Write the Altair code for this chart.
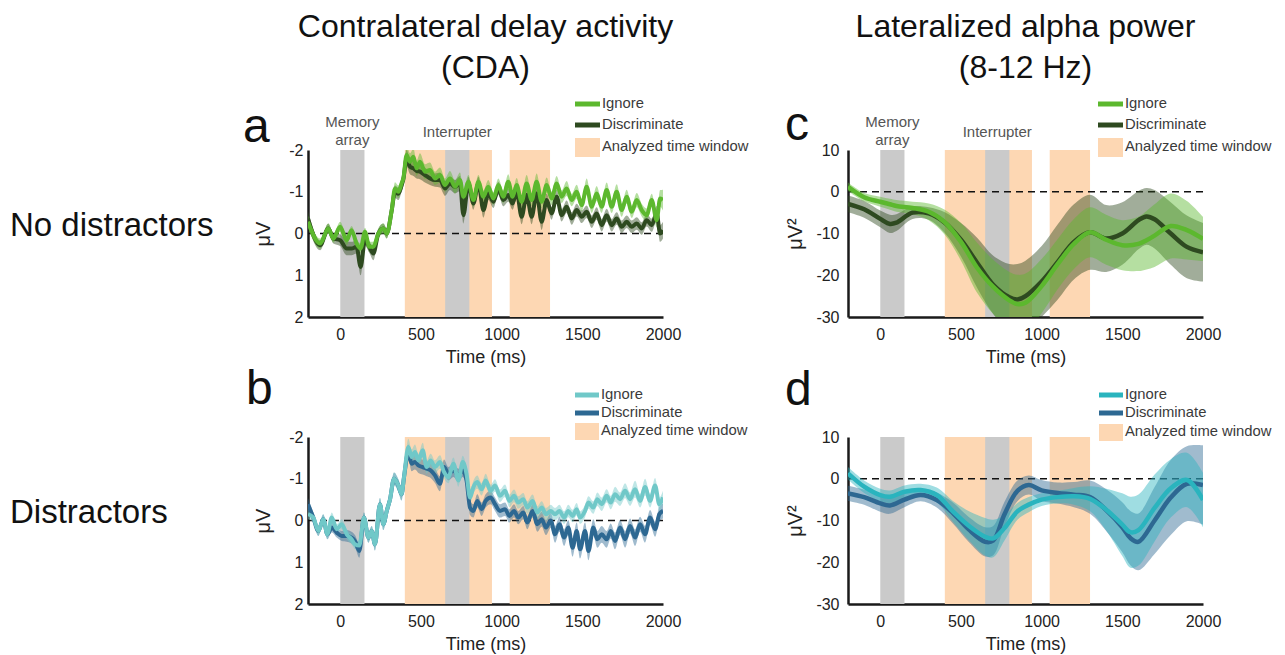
import altair as alt
import pandas as pd

# ---------------- data ----------------
x_ticks = [0, 500, 1000, 1500, 2000]
cda_ticks = [-2, -1, 0, 1, 2]
alpha_ticks = [-30, -20, -10, 0, 10]

window_start = [400, 1050]      # analyzed time windows (ms)
window_end = [940, 1300]
event_start = [0, 650]          # memory array, interrupter (ms)
event_end = [150, 800]

# Panel a: CDA, no distractors
time_a = [-200, -125, -74, -43, -1, 40, 70, 101, 126, 153,
          180, 205, 236, 267, 288, 319, 339, 360, 380, 391,
          411, 432, 453, 473, 494, 525, 556, 587, 618, 649,
          680, 711, 742, 763, 794, 825, 856, 887, 917, 949,
          980, 1010, 1041, 1068, 1093, 1124, 1155, 1186, 1217, 1248,
          1279, 1310, 1341, 1372, 1403, 1434, 1465, 1496, 1527, 1558,
          1589, 1620, 1651, 1682, 1713, 1744, 1775, 1806, 1837, 1868,
          1899, 1930, 1961, 1982, 2000]
ign_a = [-0.28, 0.24, -0.12, 0.12, -0.16, 0.16, -0.08, 0.24, 0.36, -0.04,
         0.32, 0.32, 0.0, -0.12, 0.0, -0.56, -1.08, -1.0, -1.2, -1.32,
         -1.88, -1.72, -1.84, -1.56, -1.72, -1.48, -1.52, -1.32, -1.4, -1.16,
         -1.32, -1.12, -1.28, -0.88, -1.24, -0.8, -1.24, -0.88, -1.12, -0.84,
         -1.16, -0.88, -1.24, -0.88, -1.16, -0.76, -1.2, -0.8, -1.24, -0.76,
         -1.16, -0.84, -1.2, -0.88, -1.08, -0.8, -1.0, -0.68, -1.12, -0.64,
         -0.96, -0.64, -1.04, -0.64, -1.0, -0.56, -0.88, -0.52, -0.8, -0.56,
         -0.44, -0.8, -0.32, -0.84, -0.8]
se_ign_a = [0.15, 0.12, 0.12, 0.1, 0.12, 0.12, 0.1, 0.12, 0.12, 0.1,
            0.12, 0.12, 0.12, 0.12, 0.12, 0.14, 0.15, 0.15, 0.15, 0.16,
            0.22, 0.2, 0.2, 0.18, 0.2, 0.18, 0.18, 0.16, 0.18, 0.16,
            0.18, 0.16, 0.18, 0.15, 0.16, 0.15, 0.16, 0.15, 0.16, 0.15,
            0.16, 0.15, 0.18, 0.15, 0.17, 0.15, 0.2, 0.15, 0.2, 0.16,
            0.18, 0.16, 0.18, 0.15, 0.18, 0.15, 0.17, 0.15, 0.2, 0.15,
            0.18, 0.15, 0.18, 0.15, 0.18, 0.16, 0.17, 0.15, 0.17, 0.15,
            0.16, 0.15, 0.17, 0.2, 0.25]
dis_a = [-0.36, 0.28, -0.12, 0.12, 0.16, 0.36, 0.36, 0.32, 0.8, 0.16,
         0.32, 0.48, 0.0, -0.12, 0.0, -0.56, -1.0, -0.95, -1.15, -1.3,
         -1.8, -1.6, -1.56, -1.5, -1.48, -1.4, -1.32, -1.28, -1.28, -1.08,
         -1.2, -1.12, -1.2, -0.44, -1.2, -0.72, -1.2, -0.56, -0.96, -0.76,
         -1.08, -0.8, -0.92, -0.72, -1.0, -0.4, -0.92, -0.4, -0.96, -0.28,
         -0.8, -0.48, -0.88, -0.44, -0.64, -0.36, -0.56, -0.4, -0.52, -0.28,
         -0.48, -0.2, -0.44, -0.2, -0.36, -0.16, -0.28, -0.16, -0.24, -0.12,
         -0.32, -0.2, -0.48, 0.0, -0.08]
se_dis_a = [0.18, 0.12, 0.12, 0.12, 0.14, 0.16, 0.16, 0.16, 0.2, 0.14,
            0.14, 0.16, 0.12, 0.12, 0.12, 0.14, 0.15, 0.15, 0.15, 0.16,
            0.2, 0.18, 0.18, 0.18, 0.18, 0.18, 0.16, 0.16, 0.18, 0.18,
            0.16, 0.16, 0.18, 0.2, 0.16, 0.15, 0.16, 0.18, 0.16, 0.15,
            0.16, 0.15, 0.16, 0.15, 0.16, 0.18, 0.16, 0.18, 0.16, 0.2,
            0.16, 0.15, 0.16, 0.15, 0.15, 0.15, 0.15, 0.15, 0.15, 0.15,
            0.15, 0.15, 0.15, 0.15, 0.15, 0.15, 0.15, 0.15, 0.15, 0.15,
            0.15, 0.16, 0.18, 0.2, 0.2]

# Panel b: CDA, distractors
time_b = [-200, -167, -136, -105, -80, -53, -22, 9, 40, 70,
          91, 118, 147, 174, 195, 215, 246, 267, 288, 308,
          333, 360, 380, 395, 422, 442, 463, 484, 511, 535,
          560, 587, 618, 643, 670, 701, 732, 759, 783, 804,
          825, 849, 876, 901, 932, 959, 990, 1021, 1048, 1077,
          1103, 1134, 1159, 1192, 1221, 1248, 1275, 1304, 1331, 1358,
          1387, 1413, 1440, 1465, 1486, 1517, 1538, 1568, 1593, 1620,
          1651, 1676, 1703, 1734, 1765, 1796, 1827, 1858, 1889, 1920,
          1951, 1977, 2000]
ign_b = [-0.15, -0.07, 0.25, -0.03, 0.33, -0.07, 0.21, 0.09, 0.33, 0.45,
         0.57, 0.6, -0.07, 0.41, 0.25, 0.57, -0.39, 0.09, -0.23, -0.5,
         -1.0, -0.84, -0.63, -1.04, -1.76, -1.52, -1.64, -1.44, -1.68, -1.28,
         -1.44, -1.28, -1.4, -1.16, -1.04, -1.36, -0.96, -1.4, -1.1, -0.55,
         -0.8, -0.92, -0.75, -0.96, -0.71, -0.84, -0.59, -0.71, -0.47, -0.59,
         -0.43, -0.51, -0.31, -0.47, -0.19, -0.31, -0.15, -0.23, -0.15, -0.23,
         -0.07, -0.23, -0.11, -0.27, -0.07, -0.23, -0.43, -0.31, -0.51, -0.39,
         -0.59, -0.43, -0.63, -0.51, -0.71, -0.51, -0.75, -0.47, -0.8, -0.47,
         -0.84, -0.39, -0.55]
se_ign_b = [0.12, 0.12, 0.12, 0.12, 0.12, 0.12, 0.12, 0.12, 0.12, 0.12,
            0.12, 0.12, 0.12, 0.12, 0.12, 0.15, 0.15, 0.14, 0.14, 0.14,
            0.15, 0.15, 0.15, 0.15, 0.2, 0.18, 0.18, 0.16, 0.18, 0.16,
            0.16, 0.16, 0.16, 0.15, 0.15, 0.15, 0.15, 0.15, 0.15, 0.15,
            0.15, 0.16, 0.15, 0.16, 0.15, 0.15, 0.15, 0.15, 0.15, 0.15,
            0.15, 0.15, 0.15, 0.15, 0.15, 0.15, 0.15, 0.15, 0.15, 0.15,
            0.15, 0.15, 0.15, 0.15, 0.15, 0.15, 0.15, 0.15, 0.16, 0.16,
            0.16, 0.16, 0.18, 0.16, 0.18, 0.16, 0.2, 0.16, 0.2, 0.16,
            0.18, 0.16, 0.16]
dis_b = [-0.39, -0.07, 0.25, -0.03, 0.33, 0.17, 0.29, 0.37, 0.37, 0.41,
         0.49, 0.73, -0.07, 0.41, 0.25, 0.57, -0.39, 0.09, -0.23, -0.5,
         -1.0, -0.84, -0.63, -1.04, -1.64, -1.36, -1.4, -1.32, -1.28, -1.24,
         -1.2, -1.08, -0.88, -1.28, -1.12, -1.2, -1.08, -1.2, -0.95, -0.31,
         -0.23, -0.47, -0.27, -0.47, -0.55, -0.39, -0.23, -0.27, -0.11, -0.23,
         -0.07, -0.19, 0.05, -0.23, 0.09, -0.03, 0.17, 0.0, 0.33, 0.09,
         0.41, 0.17, 0.65, 0.25, 0.69, 0.25, 0.73, 0.17, 0.45, 0.33,
         0.45, 0.25, 0.49, 0.17, 0.45, 0.13, 0.41, 0.09, 0.33, -0.07,
         0.21, -0.15, -0.23]
se_dis_b = [0.15, 0.12, 0.12, 0.12, 0.12, 0.12, 0.12, 0.12, 0.14, 0.14,
            0.14, 0.16, 0.12, 0.12, 0.12, 0.15, 0.15, 0.14, 0.14, 0.14,
            0.15, 0.15, 0.15, 0.15, 0.18, 0.18, 0.18, 0.18, 0.18, 0.18,
            0.18, 0.18, 0.18, 0.18, 0.16, 0.16, 0.16, 0.16, 0.16, 0.18,
            0.16, 0.16, 0.16, 0.16, 0.16, 0.16, 0.16, 0.16, 0.16, 0.16,
            0.16, 0.16, 0.16, 0.16, 0.18, 0.18, 0.18, 0.18, 0.2, 0.18,
            0.2, 0.18, 0.22, 0.2, 0.22, 0.2, 0.22, 0.2, 0.2, 0.2,
            0.2, 0.18, 0.2, 0.18, 0.2, 0.18, 0.2, 0.18, 0.2, 0.18,
            0.18, 0.18, 0.18]

# Panel c: lateralized alpha, no distractors
time_c = [-200, -100, 0, 60, 100, 200, 300, 400, 500, 600,
          700, 800, 850, 900, 1000, 1100, 1200, 1300, 1400, 1500,
          1600, 1650, 1700, 1800, 1900, 2000]
ign_c = [1.2, -1.3, -2.4, -3.0, -3.4, -3.9, -4.8, -7.3, -12.0, -18.2,
         -22.8, -26.0, -26.9, -26.6, -22.6, -17.3, -12.5, -9.7, -11.5, -12.8,
         -12.5, -11.6, -10.5, -8.2, -9.2, -11.3]
se_ign_c = [1.0, 1.0, 1.2, 1.3, 1.4, 1.5, 2.0, 3.0, 4.5, 6.0,
            6.5, 6.8, 7.0, 7.0, 6.5, 6.0, 6.0, 6.0, 6.0, 6.0,
            6.5, 7.0, 7.5, 7.8, 7.0, 5.3]
dis_c = [-2.9, -4.2, -6.5, -7.7, -7.4, -5.0, -5.2, -7.4, -11.5, -17.0,
         -22.3, -25.3, -25.8, -25.0, -21.5, -16.8, -12.0, -9.7, -11.2, -10.0,
         -6.8, -5.9, -6.6, -10.0, -13.2, -14.5]
se_dis_c = [2.0, 2.0, 2.0, 2.2, 2.0, 1.5, 1.5, 2.5, 4.0, 6.0,
            7.0, 8.0, 8.5, 8.5, 8.5, 9.0, 9.0, 9.0, 8.0, 7.5,
            7.0, 6.8, 7.0, 7.5, 7.5, 7.0]

# Panel d: lateralized alpha, distractors
time_d = [-200, -100, 0, 60, 150, 250, 350, 450, 550, 650,
          700, 770, 850, 920, 1000, 1100, 1200, 1300, 1400, 1500,
          1550, 1600, 1700, 1800, 1900, 2000]
ign_d = [1.3, -1.9, -3.9, -4.3, -3.1, -2.7, -3.9, -7.8, -11.3, -13.9,
         -14.3, -11.8, -7.8, -6.2, -5.0, -4.4, -4.2, -4.8, -7.4, -11.0,
         -12.8, -12.3, -7.0, -2.3, -0.3, -5.1]
se_ign_d = [1.5, 1.5, 1.5, 1.5, 1.5, 1.5, 1.8, 2.5, 3.5, 4.5,
            4.5, 3.0, 2.0, 1.8, 1.5, 1.5, 2.0, 3.0, 5.0, 7.5,
            8.5, 8.5, 8.0, 7.0, 6.5, 6.5]
dis_d = [-3.5, -4.4, -5.9, -6.4, -5.0, -3.9, -5.1, -8.2, -12.2, -15.1,
         -14.8, -8.5, -2.9, -1.5, -2.8, -3.4, -3.8, -4.4, -7.5, -11.6,
         -14.2, -15.1, -10.0, -4.5, -1.2, -1.5]
se_dis_d = [1.8, 1.8, 2.0, 2.0, 1.8, 1.5, 1.8, 2.5, 3.0, 3.5,
            3.5, 3.0, 2.5, 2.3, 2.5, 2.5, 3.0, 4.0, 5.0, 6.0,
            6.5, 6.8, 8.0, 9.0, 9.0, 9.5]

legend_labels = ["Ignore", "Discriminate", "Analyzed time window"]

# ---------------- styling ----------------
FONT = "Liberation Sans"
W, H = 355, 167
ORANGE = "#fdd7b3"
GRAY = "#cacaca"
GREEN = "#5cb82e"
DKGREEN = "#2e4a20"
TEAL_B = "#70c8c8"
TEAL_D = "#2ab4be"
BLUE = "#2d6892"
TXT = "#222222"
PLAIN = "'' + datum.value"

ONE = pd.DataFrame({"k": [0]})
win_df = pd.DataFrame({"start": window_start, "end": window_end})
evt_df = pd.DataFrame({"start": event_start, "end": event_end})
zero_df = pd.DataFrame({"z": [0]})


def series_df(time, vals, se):
    return pd.DataFrame({
        "t": time, "v": vals,
        "lo": [v - s for v, s in zip(vals, se)],
        "hi": [v + s for v, s in zip(vals, se)],
    })


def X(field):
    return alt.X(f"{field}:Q",
                 scale=alt.Scale(domain=[-200, 2000], nice=False, zero=False),
                 axis=alt.Axis(values=x_ticks, title="Time (ms)", grid=False,
                               ticks=False, tickSize=0, labelFlush=False,
                               labelExpr=PLAIN,
                               labelFontSize=16, titleFontSize=18,
                               titleFontWeight="normal", labelPadding=9,
                               titlePadding=6, domainColor="#1a1a1a",
                               domainWidth=2.5, labelColor=TXT, titleColor=TXT,
                               labelFont=FONT, titleFont=FONT))


def Y_cda(field):
    return alt.Y(f"{field}:Q",
                 scale=alt.Scale(domain=[-2, 2], reverse=True, nice=False, zero=False),
                 axis=alt.Axis(values=cda_ticks, title="μV", grid=False,
                               ticks=False, tickSize=0, labelFlush=False,
                               labelExpr=PLAIN,
                               labelFontSize=16, titleFontSize=20,
                               titleFontWeight="normal", labelPadding=5,
                               titlePadding=15, domainColor="#1a1a1a",
                               domainWidth=2.5, labelColor=TXT, titleColor=TXT,
                               labelFont=FONT, titleFont=FONT))


def Y_alpha(field):
    return alt.Y(f"{field}:Q",
                 scale=alt.Scale(domain=[-30, 10], nice=False, zero=False),
                 axis=alt.Axis(values=alpha_ticks, title="μV²", grid=False,
                               ticks=False, tickSize=0, labelFlush=False,
                               labelExpr=PLAIN,
                               labelFontSize=16, titleFontSize=20,
                               titleFontWeight="normal", labelPadding=9,
                               titlePadding=10, domainColor="#1a1a1a",
                               domainWidth=2.5, labelColor=TXT, titleColor=TXT,
                               labelFont=FONT, titleFont=FONT))


def txt(s, x, y, size, align="left", baseline="middle", color=TXT):
    return alt.Chart(ONE).mark_text(
        text=s, align=align, baseline=baseline, fontSize=size, color=color,
        font=FONT, fontWeight="normal").encode(x=alt.value(x), y=alt.value(y))


def legend(c_ign, c_dis, x1, x2, ys, sq):
    out = []
    for col, yy in ((c_ign, ys[0]), (c_dis, ys[1])):
        out.append(alt.Chart(ONE).mark_rule(color=col, strokeWidth=5).encode(
            x=alt.value(x1), x2=alt.value(x2), y=alt.value(yy)))
    out.append(alt.Chart(ONE).mark_rect(color=ORANGE).encode(
        x=alt.value(x1), x2=alt.value(x2), y=alt.value(sq[0]), y2=alt.value(sq[1])))
    for lab, yy in zip(legend_labels, ys):
        out.append(txt(lab, x2 + 2, yy, 14.8, color="#3a3a3a"))
    return out


def panel(yf, time, ign, se_i, dis, se_d, c_ign, c_dis, interp, lw, extra):
    d_i = series_df(time, ign, se_i)
    d_d = series_df(time, dis, se_d)
    layers = [
        alt.Chart(win_df).mark_rect(color=ORANGE).encode(
            x=X("start"), x2="end:Q", y=alt.value(0), y2=alt.value(H)),
        alt.Chart(evt_df).mark_rect(color=GRAY).encode(
            x=X("start"), x2="end:Q", y=alt.value(0), y2=alt.value(H)),
        alt.Chart(zero_df).mark_rule(color="#111111", strokeDash=[7, 5],
                                     strokeWidth=1.6).encode(y=yf("z")),
        alt.Chart(d_d).mark_area(color=c_dis, opacity=0.45, interpolate=interp,
                                 clip=True).encode(x=X("t"), y=yf("lo"), y2="hi:Q"),
        alt.Chart(d_i).mark_area(color=c_ign, opacity=0.45, interpolate=interp,
                                 clip=True).encode(x=X("t"), y=yf("lo"), y2="hi:Q"),
        alt.Chart(d_d).mark_line(color=c_dis, strokeWidth=lw, interpolate=interp,
                                 clip=True).encode(x=X("t"), y=yf("v")),
        alt.Chart(d_i).mark_line(color=c_ign, strokeWidth=lw, interpolate=interp,
                                 clip=True).encode(x=X("t"), y=yf("v")),
    ]
    return alt.layer(*(layers + extra)).properties(width=W, height=H)


def event_labels():
    mem = pd.DataFrame({"t": [75]})
    itr = pd.DataFrame({"t": [725]})
    out = []
    for s, yy in (("Memory", -28), ("array", -10)):
        out.append(alt.Chart(mem).mark_text(text=s, fontSize=15, color="#555555",
                                            font=FONT, baseline="middle").encode(
            x=X("t"), y=alt.value(yy)))
    out.append(alt.Chart(itr).mark_text(text="Interrupter", fontSize=15, color="#555555",
                                        font=FONT, baseline="middle").encode(
        x=X("t"), y=alt.value(-18)))
    return out


extra_a = (event_labels()
           + legend(GREEN, DKGREEN, 267, 292, [-46, -25, -3], [-12, 7])
           + [txt("a", -65, -8, 48, baseline="alphabetic", color="#111111"),
              txt("Contralateral delay activity", W / 2, -113, 32, align="center",
                  baseline="alphabetic", color="#111111"),
              txt("(CDA)", W / 2, -72, 32, align="center", baseline="alphabetic",
                  color="#111111"),
              txt("No distractors", -298, 86, 33, baseline="alphabetic", color="#111111")])
extra_c = (event_labels()
           + legend(GREEN, DKGREEN, 250, 275, [-46, -25, -3], [-12, 7])
           + [txt("c", -63, -10, 48, baseline="alphabetic", color="#111111"),
              txt("Lateralized alpha power", W / 2, -113, 32, align="center",
                  baseline="alphabetic", color="#111111"),
              txt("(8-12 Hz)", W / 2, -72, 32, align="center", baseline="alphabetic",
                  color="#111111")])
extra_b = (legend(TEAL_B, BLUE, 267, 291, [-42, -24, -6], [-14, 3])
           + [txt("b", -62, -33, 48, baseline="alphabetic", color="#111111"),
              txt("Distractors", -298, 86, 33, baseline="alphabetic", color="#111111")])
extra_d = (legend(TEAL_D, BLUE, 251, 275, [-42, -24, -5], [-13, 4])
           + [txt("d", -63, -32, 48, baseline="alphabetic", color="#111111")])

pa = panel(Y_cda, time_a, ign_a, se_ign_a, dis_a, se_dis_a, GREEN, DKGREEN,
           "monotone", 4, extra_a)
pb = panel(Y_cda, time_b, ign_b, se_ign_b, dis_b, se_dis_b, TEAL_B, BLUE,
           "monotone", 4, extra_b)
pc = panel(Y_alpha, time_c, ign_c, se_ign_c, dis_c, se_dis_c, GREEN, DKGREEN,
           "catmull-rom", 4.5, extra_c)
pdd = panel(Y_alpha, time_d, ign_d, se_ign_d, dis_d, se_dis_d, TEAL_D, BLUE,
            "catmull-rom", 4.5, extra_d)

chart = alt.concat(pa, pc, pb, pdd, columns=2,
                   spacing={"row": 120, "column": 185},
                   bounds="flush").properties(
    padding={"left": 2, "top": 3, "right": 4, "bottom": 4}
).configure_view(stroke=None)

chart.save("out.html", embed_options={"renderer": "svg", "actions": False})
